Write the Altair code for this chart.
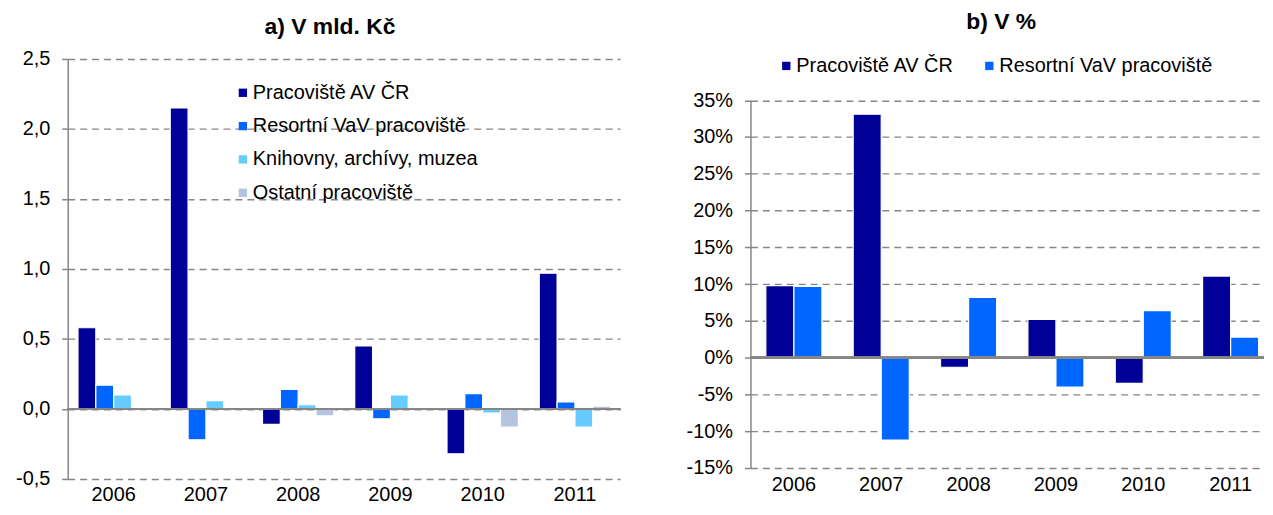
import altair as alt
import pandas as pd

# ---- data ----
years = ["2006", "2007", "2008", "2009", "2010", "2011"]
series_a = ["Pracoviště AV ČR", "Resortní VaV pracoviště", "Knihovny, archívy, muzea", "Ostatní pracoviště"]
colors_a = ["#000099", "#0066FF", "#66CCFF", "#B3C3E0"]

av_bn = [0.58, 2.15, -0.11, 0.45, -0.32, 0.97]
res_bn = [0.17, -0.22, 0.14, -0.07, 0.11, 0.05]
knih_bn = [0.10, 0.06, 0.03, 0.10, -0.03, -0.13]
ost_bn = [-0.005, -0.005, -0.05, 0.01, -0.13, 0.02]

series_b = ["Pracoviště AV ČR", "Resortní VaV pracoviště"]
colors_b = ["#000099", "#0066FF"]
av_pct = [9.8, 33.1, -1.3, 5.2, -3.5, 11.1]
res_pct = [9.7, -11.2, 8.2, -4.0, 6.4, 2.8]

ticks_a = [-0.5, 0.0, 0.5, 1.0, 1.5, 2.0, 2.5]
ticks_b = [-15, -10, -5, 0, 5, 10, 15, 20, 25, 30, 35]

rows_a = []
for s, vals in zip(series_a, [av_bn, res_bn, knih_bn, ost_bn]):
    for y, v in zip(years, vals):
        rows_a.append({"year": y, "series": s, "value": v})
df_a = pd.DataFrame(rows_a)

rows_b = []
for s, vals in zip(series_b, [av_pct, res_pct]):
    for y, v in zip(years, vals):
        rows_b.append({"year": y, "series": s, "value": v})
df_b = pd.DataFrame(rows_b)

FONT = "Liberation Sans"
GRAY = "#868686"
MINUS = "\u2212"


def y_axis(values, expr):
    return alt.Axis(
        title=None, values=values, labelExpr=expr,
        labelFont=FONT, labelFontSize=20, labelColor="black", labelPadding=12,
        domain=True, domainColor=GRAY, domainWidth=1.5,
        ticks=True, tickColor=GRAY, tickWidth=1.5, tickSize=6,
        grid=True, gridColor=GRAY, gridWidth=1.4, gridDash=[7, 5],
    )


def x_axis(pad):
    return alt.Axis(
        title=None, labelAngle=0, domain=False, ticks=False, grid=False,
        labelFont=FONT, labelFontSize=20, labelColor="black", labelPadding=pad,
    )


def legend(x, y, direction, columns=None, colpad=25):
    kw = dict(
        title=None, orient="none", legendX=x, legendY=y, direction=direction,
        symbolType="square", symbolSize=70, symbolStrokeWidth=0,
        labelFont=FONT, labelFontSize=20, labelColor="black", labelLimit=600,
        labelOffset=0, rowPadding=13.5, columnPadding=colpad, padding=0,
    )
    if columns is not None:
        kw["columns"] = columns
    return alt.Legend(**kw)


# ---- panel a ----
bars_a = alt.Chart(df_a).mark_bar(stroke="white", strokeWidth=1.2).encode(
    x=alt.X("year:N", sort=years,
            scale=alt.Scale(paddingInner=0.2265, paddingOuter=0.107, align=0.52),
            axis=x_axis(6)),
    xOffset=alt.XOffset("series:N", sort=series_a,
                        scale=alt.Scale(domain=series_a, paddingInner=0, paddingOuter=0)),
    y=alt.Y("value:Q", scale=alt.Scale(domain=[-0.5, 2.5], nice=False, zero=False),
            axis=y_axis(ticks_a,
                        "replace(replace(format(datum.value, '.1f'), '.', ','), '" + MINUS + "', '-')")),
    color=alt.Color("series:N", sort=series_a,
                    scale=alt.Scale(domain=series_a, range=colors_a),
                    legend=legend(166, 24, "vertical")),
)
zero_a = alt.Chart(df_a).mark_rule(color=GRAY, strokeWidth=1.6).encode(y=alt.datum(0))

left = alt.layer(bars_a, zero_a).properties(
    width=555, height=422,
    title=alt.TitleParams("a) V mld. Kč", font=FONT, fontSize=23, fontWeight="bold",
                          color="black", anchor="middle", frame="group", dx=-14, offset=10),
)

# ---- panel b ----
bars_b = alt.Chart(df_b).mark_bar(stroke="white", strokeWidth=1.2).encode(
    x=alt.X("year:N", sort=years,
            scale=alt.Scale(paddingInner=0.358, paddingOuter=0.1187, align=0.742),
            axis=x_axis(7)),
    xOffset=alt.XOffset("series:N", sort=series_b,
                        scale=alt.Scale(domain=series_b, paddingInner=0, paddingOuter=0)),
    y=alt.Y("value:Q", scale=alt.Scale(domain=[-15, 35], nice=False, zero=False, range=[411, 41.5]),
            axis=y_axis(ticks_b,
                        "replace(format(datum.value, 'd'), '" + MINUS + "', '-') + '%'")),
    color=alt.Color("series:N", sort=series_b,
                    scale=alt.Scale(domain=series_b, range=colors_b),
                    legend=legend(26, -3, "horizontal", columns=2, colpad=25)),
)
zero_b = alt.Chart(df_b).mark_rule(color=GRAY, strokeWidth=1.6).encode(y=alt.datum(0))

right = alt.layer(bars_b, zero_b).properties(
    width=516, height=411,
    title=alt.TitleParams("b) V %", font=FONT, fontSize=23, fontWeight="bold",
                          color="black", anchor="middle", frame="group", dx=-6, offset=22.5),
)

chart = (
    alt.hconcat(left, right, spacing=65)
    .resolve_scale(color="independent", x="independent", y="independent", xOffset="independent")
    .resolve_legend(color="independent")
    .properties(padding={"left": 7, "top": 1, "right": 0, "bottom": 0}, background="white")
    .configure_view(stroke=None)
)

chart.save("out.html", embed_options={"renderer": "svg", "actions": False})
